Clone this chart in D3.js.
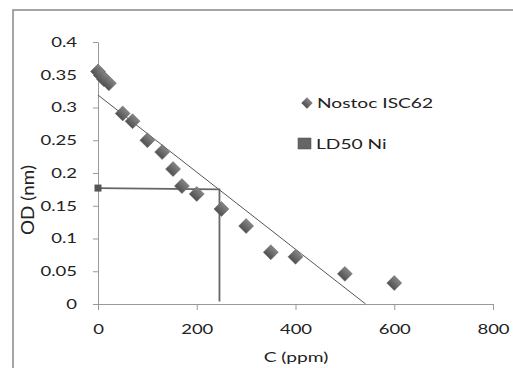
<!DOCTYPE html>
<html><head><meta charset="utf-8">
<script src="https://cdn.jsdelivr.net/npm/d3@7"></script>
<style>body{margin:0;background:#fff}svg{display:block}text{font-family:Lato,"Open Sans",sans-serif;fill:#222}</style>
</head><body><svg id="c" width="513" height="368"></svg>
<script>
const concC = [0, 6, 12, 22, 50, 70, 100, 130, 152, 170, 200, 250, 300, 350, 400, 500, 600];
const odValues = [0.355, 0.349, 0.343, 0.337, 0.291, 0.279, 0.25, 0.232, 0.206, 0.18, 0.168, 0.145, 0.119, 0.079, 0.072, 0.046, 0.032];
const ldX = [0, 246, 246];
const ldY = [0.177, 0.175, 0.004];
const trendX = [0, 542];
const trendY = [0.319, 0];
const xTicks = [0, 200, 400, 600, 800];
const yTicks = [0, 0.05, 0.1, 0.15, 0.2, 0.25, 0.3, 0.35, 0.4];
const seriesNames = ["Nostoc ISC62", "LD50 Ni"];

const SX = 1.37; // horizontal stretch of text
const svg = d3.select("#c");
svg.append("rect").attr("x",13).attr("y",10).attr("width",520).attr("height",380)
  .attr("fill","none").attr("stroke","#888").attr("stroke-width",1.5);

const x = d3.scaleLinear().domain([0,800]).range([98,493]);
const y = d3.scaleLinear().domain([0,0.4]).range([304,42]);

const xa = svg.append("g").attr("transform","translate(0,304)")
  .call(d3.axisBottom(x).tickValues(xTicks).tickSize(6).tickPadding(14).tickSizeOuter(0).tickFormat(d3.format("d")));
const ya = svg.append("g").attr("transform","translate(98,0)")
  .call(d3.axisLeft(y).tickValues(yTicks).tickSize(5).tickPadding(16).tickSizeOuter(0).tickFormat(d=>d===0?"0":String(+d.toFixed(2))));
[xa,ya].forEach(a=>{
  a.selectAll("path,line").attr("stroke","#999");
  a.selectAll("text").attr("font-size",13.5).attr("fill","#222").attr("font-family","Lato,sans-serif")
    .attr("transform",`scale(${SX},1)`);
});
ya.selectAll("text").attr("x",-21/SX);

svg.append("line").attr("x1",x(trendX[0])).attr("y1",y(trendY[0])).attr("x2",x(trendX[1])).attr("y2",y(trendY[1]))
  .attr("stroke","#555").attr("stroke-width",1);

svg.append("path").datum(ldX.map((v,i)=>[v,ldY[i]]))
  .attr("d",d3.line().x(d=>x(d[0])).y(d=>y(d[1])))
  .attr("fill","none").attr("stroke","#666").attr("stroke-width",1.8);
svg.append("rect").attr("x",x(ldX[0])-3.5).attr("y",y(ldY[0])-3.5).attr("width",7).attr("height",7).attr("fill","#555");

const defs = svg.append("defs");
const g = defs.append("linearGradient").attr("id","dg").attr("x1","0").attr("y1","0").attr("x2","0").attr("y2","1");
g.append("stop").attr("offset","0").attr("stop-color","#858585");
g.append("stop").attr("offset","1").attr("stop-color","#505050");

svg.append("g").selectAll("path").data(concC.map((c,i)=>[c,odValues[i]])).join("path")
  .attr("transform",d=>`translate(${x(d[0])},${y(d[1])}) rotate(45)`)
  .attr("d",d3.symbol().type(d3.symbolSquare).size(112))
  .attr("fill","url(#dg)").attr("stroke","#666").attr("stroke-width",0.5);

// legend
svg.append("path").attr("transform","translate(307,103) rotate(45)")
  .attr("d",d3.symbol().type(d3.symbolSquare).size(64)).attr("fill","url(#dg)");
svg.append("text").attr("transform",`translate(317,108) scale(${SX},1)`).attr("font-size",14).text(seriesNames[0]);
svg.append("rect").attr("x",298).attr("y",138).attr("width",13).attr("height",11).attr("fill","#666").attr("stroke","#444").attr("stroke-width",0.5);
svg.append("text").attr("transform",`translate(316,149) scale(${SX},1)`).attr("font-size",14).text(seriesNames[1]);

svg.append("text").attr("transform",`translate(296,362) scale(${SX},1)`).attr("text-anchor","middle").attr("font-size",14).text("C (ppm)");
svg.append("text").attr("transform","translate(34,200) rotate(-90) scale(1.35,1.25)").attr("text-anchor","middle").attr("font-size",14).text("OD (nm)");
</script></body></html>
